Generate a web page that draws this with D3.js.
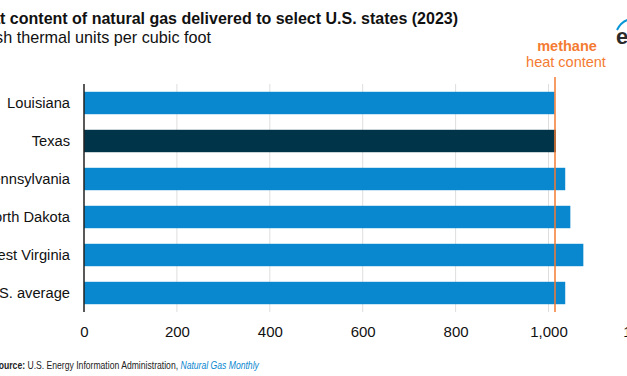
<!DOCTYPE html>
<html>
<head>
<meta charset="utf-8">
<script src="https://cdn.jsdelivr.net/npm/d3@7"></script>
<style>
  body { margin: 0; background: #fff; }
  text { font-family: "Liberation Sans", Arial, sans-serif; }
</style>
</head>
<body>
<div class="chart"></div>
<script>
// heat content chart
var states = ["Louisiana", "Texas", "Pennsylvania", "North Dakota", "West Virginia", "U.S. average"];
var heatContent = [1013, 1016, 1036, 1047, 1075, 1036];
var highlight = ["Texas"];
var methaneValue = 1014;
var xTicks = [0, 200, 400, 600, 800, 1000, 1200];

var svgWidth = 627;
var svgHeight = 376;

var margin = { top: 84, left: 84, bottom: 64 };

var svg = d3.select(".chart")
  .append("svg")
  .attr("width", svgWidth)
  .attr("height", svgHeight);

var x = d3.scaleLinear()
  .domain([0, 1200])
  .range([margin.left, margin.left + 1200 * 0.4645]);

var y = d3.scaleBand()
  .domain(states)
  .range([margin.top, svgHeight - margin.bottom])
  .paddingInner(0.41)
  .paddingOuter(0.205);

var plotTop = y.range()[0];
var plotBottom = y.range()[1];

// gridlines
svg.append("g")
  .selectAll("line")
  .data(xTicks.filter(d => d > 0))
  .enter()
  .append("line")
  .attr("x1", d => x(d))
  .attr("x2", d => x(d))
  .attr("y1", plotTop)
  .attr("y2", plotBottom)
  .attr("stroke", "#dedede")
  .attr("stroke-width", 1);

// bars
svg.append("g")
  .selectAll("rect")
  .data(states)
  .enter()
  .append("rect")
  .attr("x", x(0))
  .attr("y", d => y(d))
  .attr("width", (d, i) => x(heatContent[i]) - x(0))
  .attr("height", y.bandwidth())
  .attr("fill", d => highlight.includes(d) ? "#003449" : "#0a88cf");

// zero axis line
svg.append("line")
  .attr("x1", x(0))
  .attr("x2", x(0))
  .attr("y1", plotTop)
  .attr("y2", plotBottom)
  .attr("stroke", "#222")
  .attr("stroke-width", 1.5);

// category labels
svg.append("g")
  .selectAll("text")
  .data(states)
  .enter()
  .append("text")
  .attr("x", 70)
  .attr("y", d => y(d) + y.bandwidth() / 2)
  .attr("dy", "0.35em")
  .attr("text-anchor", "end")
  .style("font-size", "14.7px")
  .style("fill", "#111")
  .text(d => d);

// x axis tick labels
var xAxis = d3.axisBottom(x)
  .tickValues(xTicks)
  .tickFormat(d3.format(","))
  .tickSize(0)
  .tickPadding(0);

var axisG = svg.append("g")
  .attr("transform", "translate(0," + 326 + ")")
  .call(xAxis);
axisG.select(".domain").remove();
axisG.selectAll("text")
  .style("font-family", "'Liberation Sans', Arial, sans-serif")
  .style("font-size", "15px")
  .style("fill", "#111");

// methane reference line
svg.append("line")
  .attr("x1", x(methaneValue))
  .attr("x2", x(methaneValue))
  .attr("y1", 77)
  .attr("y2", plotBottom)
  .attr("stroke", "#f47b32")
  .attr("stroke-width", 1.5);

svg.append("text")
  .attr("x", x(methaneValue) + 12)
  .attr("y", 51)
  .attr("text-anchor", "middle")
  .style("font-size", "14.5px")
  .style("font-weight", "bold")
  .style("fill", "#f47b32")
  .text("methane");

svg.append("text")
  .attr("x", x(methaneValue) + 11)
  .attr("y", 67)
  .attr("text-anchor", "middle")
  .style("font-size", "14.5px")
  .style("fill", "#f47b32")
  .text("heat content");

// title and subtitle
svg.append("text")
  .attr("x", 458)
  .attr("y", 24)
  .attr("text-anchor", "end")
  .style("font-size", "16px")
  .style("font-weight", "bold")
  .style("fill", "#111")
  .text("Heat content of natural gas delivered to select U.S. states (2023)");

svg.append("text")
  .attr("x", 211)
  .attr("y", 43)
  .attr("text-anchor", "end")
  .style("font-size", "16.2px")
  .style("fill", "#111")
  .text("British thermal units per cubic foot");

// source line, narrowed to look like the condensed face of the original
var source = svg.append("text")
  .attr("transform", "translate(-7,369) scale(0.82,1)")
  .style("font-size", "10.5px")
  .style("fill", "#222");
source.append("tspan").style("font-weight", "bold").text("Source:");
source.append("tspan").text(" U.S. Energy Information Administration, ");
source.append("tspan").style("font-style", "italic").style("fill", "#0a88cf").text("Natural Gas Monthly");

// eia logo corner
svg.append("path")
  .attr("d", "M617,30 Q622,20 632,19")
  .attr("fill", "none")
  .attr("stroke", "#0a96d6")
  .attr("stroke-width", 2);
svg.append("text")
  .attr("x", 616)
  .attr("y", 44)
  .style("font-size", "22px")
  .style("font-weight", "bold")
  .style("fill", "#2b2b2b")
  .text("e");
</script>
</body>
</html>
